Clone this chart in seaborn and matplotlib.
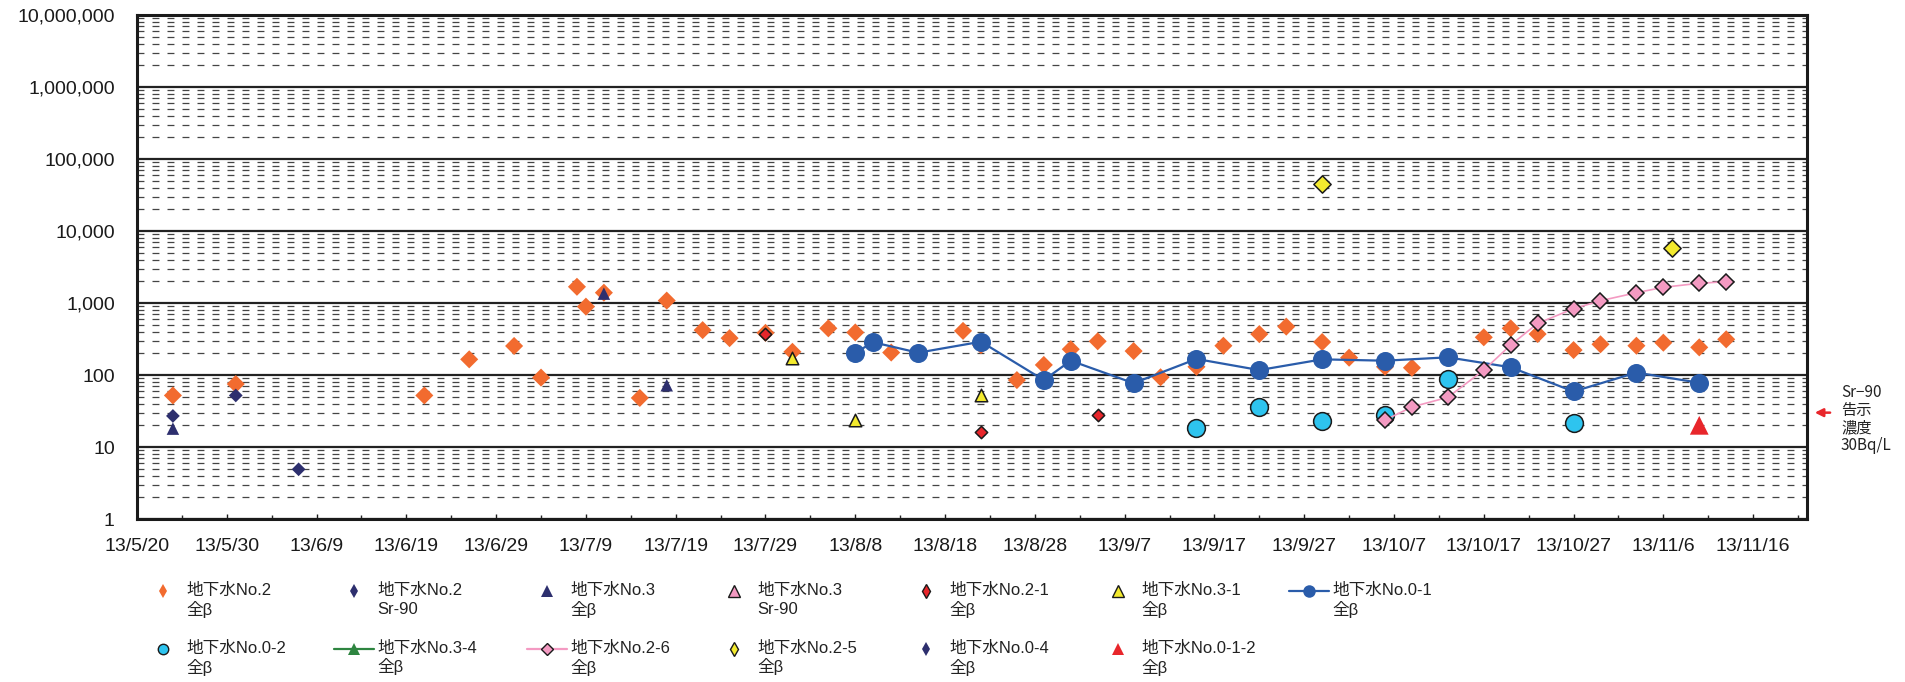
import matplotlib
matplotlib.use("Agg")
import matplotlib.pyplot as plt
import matplotlib.ticker as mticker
from matplotlib.lines import Line2D
import numpy as np
import pandas as pd
import seaborn as sns

# ---------------- data ----------------
YEAR = 2013
x_tick_labels = ["13/5/20", "13/5/30", "13/6/9", "13/6/19", "13/6/29", "13/7/9", "13/7/19",
                 "13/7/29", "13/8/8", "13/8/18", "13/8/28", "13/9/7", "13/9/17", "13/9/27",
                 "13/10/7", "13/10/17", "13/10/27", "13/11/6", "13/11/16"]

no2_beta_dates = ["05-24", "05-31", "06-21", "06-26", "07-01", "07-04", "07-08", "07-09", "07-11",
                  "07-15", "07-18", "07-22", "07-25", "07-29", "08-01", "08-05", "08-08", "08-12",
                  "08-15", "08-20", "08-22", "08-26", "08-29", "09-01", "09-04", "09-08", "09-11",
                  "09-15", "09-18", "09-22", "09-25", "09-29", "10-02", "10-06", "10-09", "10-17",
                  "10-20", "10-23", "10-27", "10-30", "11-03", "11-06", "11-10", "11-13"]
no2_beta_vals = [52, 75, 52, 165, 253, 92, 1680, 890, 1390,
                 48, 1080, 420, 325, 385, 210, 445, 390, 205,
                 200, 410, 260, 85, 138, 228, 294, 215, 93,
                 130, 255, 370, 470, 287, 174, 130, 126, 334,
                 445, 371, 222, 267, 255, 281, 242, 313]

no2_sr_dates = ["05-24", "05-31", "06-07"]
no2_sr_vals = [27, 52, 4.9]

no3_beta_dates = ["05-24", "07-11", "07-18"]
no3_beta_vals = [18, 1350, 72]

no3_sr_dates = []
no3_sr_vals = []

no2_1_dates = ["07-29", "08-22", "09-04"]
no2_1_vals = [375, 16.3, 27.8]

no3_1_dates = ["08-01", "08-08", "08-22"]
no3_1_vals = [175, 24, 53]

no0_1_dates = ["08-08", "08-10", "08-15", "08-22", "08-29", "09-01", "09-08", "09-15",
               "09-22", "09-29", "10-06", "10-13", "10-20", "10-27", "11-03", "11-10"]
no0_1_vals = [204, 285, 204, 290, 85, 158, 77, 167, 117, 165, 158, 176, 128, 59, 108, 78]

no0_2_dates = ["09-15", "09-22", "09-29", "10-06", "10-13", "10-27"]
no0_2_vals = [18.5, 36, 23.2, 27.8, 87, 21.3]

no3_4_dates = []
no3_4_vals = []

no2_6_dates = ["10-06", "10-09", "10-13", "10-17", "10-20", "10-23", "10-27", "10-30",
               "11-03", "11-06", "11-10", "11-13"]
no2_6_vals = [23.7, 36, 49, 117, 261, 522, 833, 1076, 1390, 1652, 1879, 1976]

no2_5_dates = ["09-29", "11-07"]
no2_5_vals = [45000, 5870]

no0_4_dates = []
no0_4_vals = []

no0_1_2_dates = ["11-10"]
no0_1_2_vals = [20]

limit_value = 30

# ---------------- styles ----------------
ORANGE = "#F26B2F"
NAVY = "#2D2F6E"
BLUE = "#2A5CAA"
CYAN = "#2EC4EF"
PINK = "#F49AC2"
YELLOW = "#F3EA2E"
RED = "#E8262B"
GREEN = "#2E8540"
EDGE = "#1a1a1a"

# name, dates, vals, marker, face, edge, plot-ms, line, legend-marker, legend-ms
series = [
    ("地下水No.2\n全β", no2_beta_dates, no2_beta_vals, "D", ORANGE, "none", 9.2, None, "d", 7.5),
    ("地下水No.2\nSr-90", no2_sr_dates, no2_sr_vals, "D", NAVY, "none", 7.0, None, "d", 7.0),
    ("地下水No.3\n全β", no3_beta_dates, no3_beta_vals, "^", NAVY, "none", 9.0, None, "^", 8.0),
    ("地下水No.3\nSr-90", no3_sr_dates, no3_sr_vals, "^", PINK, EDGE, 9.0, None, "^", 8.0),
    ("地下水No.2-1\n全β", no2_1_dates, no2_1_vals, "D", RED, EDGE, 6.3, None, "d", 7.0),
    ("地下水No.3-1\n全β", no3_1_dates, no3_1_vals, "^", YELLOW, EDGE, 9.0, None, "^", 8.0),
    ("地下水No.0-1\n全β", no0_1_dates, no0_1_vals, "o", BLUE, "none", 13.7, BLUE, "o", 9.0),
    ("地下水No.0-2\n全β", no0_2_dates, no0_2_vals, "o", CYAN, EDGE, 12.8, None, "o", 7.5),
    ("地下水No.3-4\n全β", no3_4_dates, no3_4_vals, "^", GREEN, "none", 9.0, GREEN, "^", 8.0),
    ("地下水No.2-6\n全β", no2_6_dates, no2_6_vals, "D", PINK, EDGE, 8.4, PINK, "D", 6.0),
    ("地下水No.2-5\n全β", no2_5_dates, no2_5_vals, "D", YELLOW, EDGE, 8.8, None, "d", 7.0),
    ("地下水No.0-4\n全β", no0_4_dates, no0_4_vals, "D", NAVY, "none", 7.0, None, "d", 7.0),
    ("地下水No.0-1-2\n全β", no0_1_2_dates, no0_1_2_vals, "^", RED, "none", 13.5, None, "^", 9.0),
]

# ---------------- figure ----------------
sns.set_theme(style="white")
plt.rcParams["font.family"] = ["Liberation Sans", "Noto Sans CJK JP", "DejaVu Sans"]
plt.rcParams["lines.scale_dashes"] = False

W, H = 1905, 682
fig = plt.figure(figsize=(W / 100, H / 100), dpi=100)
ax = fig.add_axes([137 / W, 1 - 519 / H, (1807 - 137) / W, (519 - 15) / H])

for i, (name, d, v, mk, fc, ec, ms, lc, _, _) in enumerate(series):
    if len(d) == 0:
        continue
    df = pd.DataFrame({"date": pd.to_datetime([f"{YEAR}-{s}" for s in d]), "val": v})
    if lc is not None:
        lw = 1.6 if lc == BLUE else 1.2
        sns.lineplot(data=df, x="date", y="val", ax=ax, color=lc, lw=lw, estimator=None,
                     marker=mk, markersize=ms, markerfacecolor=fc,
                     markeredgecolor=(fc if ec == "none" else ec),
                     markeredgewidth=(0 if ec == "none" else 1.1), zorder=3 + i)
    else:
        sns.scatterplot(data=df, x="date", y="val", ax=ax, marker=mk, s=ms ** 2, color=fc,
                        edgecolor=ec, linewidth=(0 if ec == "none" else 1.1), zorder=3 + i)

ax.set_yscale("log")
ax.set_ylim(1, 1e7)
x0 = pd.Timestamp(f"{YEAR}-05-20")
ax.set_xlim(x0, pd.Timestamp(f"{YEAR}-11-22"))

ax.yaxis.set_major_locator(mticker.LogLocator(base=10, numticks=12))
ax.yaxis.set_minor_locator(mticker.LogLocator(base=10, subs=np.arange(2, 10), numticks=100))
ax.yaxis.set_major_formatter(mticker.FuncFormatter(lambda y, p: f"{int(round(y)):,}"))
ax.yaxis.set_minor_formatter(mticker.NullFormatter())

major_x = pd.date_range(x0, periods=len(x_tick_labels), freq="10D")
minor_x = pd.date_range(x0, pd.Timestamp(f"{YEAR}-11-22"), freq="5D")
ax.set_xticks(major_x)
ax.set_xticklabels(x_tick_labels)
ax.set_xticks(minor_x, minor=True)

ax.grid(False)
ax.grid(which="major", axis="y", color="#222222", lw=1.6, ls="-", zorder=1)
ax.grid(which="minor", axis="y", color="#444444", lw=0.9, ls=(0, (5.0, 5.8)), zorder=1)
ax.set_axisbelow(True)

ax.tick_params(axis="y", which="both", length=0, labelsize=14, pad=16, colors="#1a1a1a")
ax.tick_params(axis="x", which="major", direction="in", length=3.8, width=1.0, labelsize=14,
               pad=14, colors="#1a1a1a", bottom=True)
ax.tick_params(axis="x", which="minor", direction="in", length=3.0, width=1.0, bottom=True)
for sp in ax.spines.values():
    sp.set_visible(True)
    sp.set_color("#1a1a1a")
    sp.set_linewidth(2.2)
ax.set_xlabel("")
ax.set_ylabel("")
if ax.get_legend() is not None:
    ax.get_legend().remove()

# limit arrow + note
ax.annotate("", xy=(1.003, limit_value), xycoords=("axes fraction", "data"),
            xytext=(1.0155, limit_value), textcoords=("axes fraction", "data"),
            arrowprops=dict(arrowstyle="-|>", color=RED, lw=1.8, mutation_scale=12),
            annotation_clip=False)
fig.text(1841 / W, 1 - 384 / H, "Sr−90\n告示\n濃度\n30Bq/L", ha="left", va="top",
         fontsize=11, family=["Noto Sans CJK JP", "DejaVu Sans"], color="#222222",
         linespacing=1.05)

# legend: 7 columns, row-major as in the original
handles = []
for (name, d, v, mk, fc, ec, ms, lc, lmk, lms) in series:
    h = Line2D([], [], color=(lc if lc else fc), lw=(1.6 if lc else 0),
               ls=("-" if lc else "none"), marker=lmk, markersize=lms, markerfacecolor=fc,
               markeredgecolor=(fc if ec == "none" else ec),
               markeredgewidth=(0 if ec == "none" else 1.0))
    handles.append((h, name))

col_x = [143, 334, 527, 714, 906, 1098, 1289]
ncol = 7
for c in range(ncol):
    items = [handles[k] for k in range(c, len(handles), ncol)]
    leg = fig.legend([it[0] for it in items], [it[1] for it in items],
                     loc="upper left", bbox_to_anchor=(col_x[c] / W, 1 - 583 / H),
                     bbox_transform=fig.transFigure, frameon=False, borderpad=0,
                     borderaxespad=0, handlelength=2.4, handletextpad=0.18,
                     handleheight=1.7, labelspacing=1.4, fontsize=12)
    for t in leg.get_texts():
        t.set_color("#222222")
        if "Sr-90" in t.get_text():
            t.set_linespacing(1.36)
    for colbox in leg._legend_handle_box.get_children():
        for item in colbox.get_children():
            item.align = "top"

fig.savefig("out.png", dpi=100)
